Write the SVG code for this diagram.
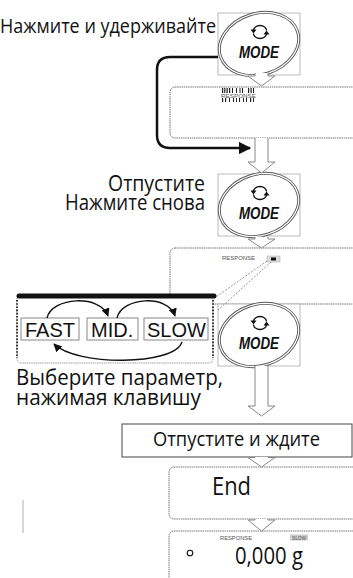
<svg xmlns="http://www.w3.org/2000/svg" width="353" height="578" viewBox="0 0 353 578">
<style>
.ru{font-family:"Open Sans","Noto Sans","DejaVu Sans",sans-serif;fill:#111}
.ar{font-family:"Liberation Sans",Arial,sans-serif;fill:#111}
.mode{font-family:"Liberation Sans",Arial,sans-serif;font-weight:bold;font-style:italic;font-size:16px;fill:#111}
.tiny{font-family:"Liberation Sans",Arial,sans-serif;font-size:5px;fill:#555}
.btnbox{fill:#fff;stroke:#bbb;stroke-width:1}
.disp{fill:#fff;stroke:#777;stroke-width:1;stroke-dasharray:1.5 0.7}
.hollow{fill:#fff;stroke:#888;stroke-width:1}
.opt{fill:#fff;stroke:#888;stroke-width:1}
.cur{fill:none;stroke:#111;stroke-width:1.4}
</style>
<defs>
<marker id="ah" viewBox="0 0 10 10" refX="9" refY="5" markerWidth="5" markerHeight="5" orient="auto" markerUnits="strokeWidth">
<path d="M0,0 L10,5 L0,10 Z" fill="#111"/>
</marker>
<marker id="ahs" viewBox="0 0 10 10" refX="9" refY="5" markerWidth="6" markerHeight="6" orient="auto" markerUnits="strokeWidth">
<path d="M0,0 L10,5 L0,10 Z" fill="#111"/>
</marker>
<g id="icon">
<path d="M6.5,-1.5 A6.5,5 0 0 0 -6.5,-1.5" fill="none" stroke="#111" stroke-width="1.3"/>
<polygon points="-9.5,-2.5 -3.5,-2.5 -6.5,1.5" fill="#111"/>
<path d="M-6.5,1.5 A6.5,5 0 0 0 6.5,1.5" fill="none" stroke="#111" stroke-width="1.3"/>
<polygon points="3.5,2.5 9.5,2.5 6.5,-1.5" fill="#111"/>
</g>
<g id="btn">
<rect class="btnbox" x="-41" y="-31" width="82" height="62"/>
<ellipse cx="0" cy="0" rx="40.5" ry="30.5" transform="rotate(-18)" fill="#fff" stroke="#555" stroke-width="3"/>
<ellipse cx="0" cy="0" rx="40.5" ry="30.5" transform="rotate(-18)" fill="none" stroke="#fff" stroke-width="1.2"/>
<use href="#icon" x="1" y="-12"/>
<text class="mode" x="0" y="14" text-anchor="middle" textLength="40" lengthAdjust="spacingAndGlyphs">MODE</text>
</g>
</defs>

<g id="label-hold">
<text class="ru" x="0" y="33" font-size="20.5" textLength="216" lengthAdjust="spacingAndGlyphs">Нажмите и удерживайте</text>
</g>

<g id="display-blink">
<rect class="disp" x="170" y="87" width="200" height="51" rx="5"/>
<g fill="#222">
<rect x="222" y="88" width="1.2" height="5"/><rect x="224.2" y="88" width="1.2" height="5"/><rect x="226.5" y="88" width="1.2" height="5"/><rect x="229" y="88" width="1.2" height="5"/><rect x="232" y="88" width="1" height="5"/><rect x="236" y="88" width="1" height="5"/><rect x="239.5" y="88" width="1" height="5"/><rect x="242" y="88" width="1" height="5"/><rect x="248" y="88" width="1.2" height="5"/><rect x="250.5" y="88" width="1.2" height="5"/><rect x="253" y="88" width="1" height="5"/>
<rect x="222" y="98" width="1.2" height="4"/><rect x="225" y="98" width="1.2" height="4"/><rect x="229" y="98" width="1" height="4"/><rect x="233" y="98" width="1" height="4"/><rect x="236" y="98" width="1" height="4"/><rect x="239" y="98" width="1" height="4"/><rect x="243" y="98" width="1" height="4"/><rect x="246" y="98" width="1" height="4"/><rect x="250" y="98" width="1.2" height="4"/><rect x="253" y="98" width="1" height="4"/>
</g>
<text class="tiny" x="221" y="97.5" textLength="35" lengthAdjust="spacingAndGlyphs">RESPONSE</text>
</g>

<g id="display-response">
<rect class="disp" x="170" y="248" width="200" height="56" rx="5"/>
<text class="tiny" x="222" y="260" textLength="33" lengthAdjust="spacingAndGlyphs">RESPONSE</text>
<rect x="267" y="256" width="13" height="6" fill="#ddd" stroke="#aaa" stroke-width="0.5"/>
<rect x="271" y="257.5" width="5" height="3" fill="#111"/>
</g>

<g id="label-release">
<text class="ru" x="205" y="191" font-size="21.5" text-anchor="end" textLength="97" lengthAdjust="spacingAndGlyphs">Отпустите</text>
<text class="ru" x="205" y="210" font-size="21.5" text-anchor="end" textLength="140" lengthAdjust="spacingAndGlyphs">Нажмите снова</text>
</g>

<g id="options-panel">
<path d="M17,298 V358 Q17,363 22,363 H208 Q213,363 213,358 V298" fill="#fff" stroke="#888" stroke-width="0.8" stroke-dasharray="1.5 0.7"/>
<line x1="17" y1="300" x2="17" y2="358" stroke="#111" stroke-width="1.6" stroke-dasharray="1.6 1.6"/>
<line x1="213" y1="300" x2="213" y2="358" stroke="#111" stroke-width="1.6" stroke-dasharray="1.6 1.6"/>
<line x1="19" y1="296" x2="214" y2="296" stroke="#111" stroke-width="5" stroke-linecap="round"/>
<rect class="opt" x="21" y="318" width="58" height="22"/>
<rect class="opt" x="87" y="318" width="51" height="22"/>
<rect class="opt" x="144" y="318" width="64" height="22"/>
<text class="ar" x="25" y="337" font-size="20">FAST</text>
<text class="ar" x="91" y="337" font-size="20">MID.</text>
<text class="ar" x="147" y="337" font-size="20">SLOW</text>
</g>

<g id="btn-hold"><use href="#btn" x="259" y="44"/></g>
<g id="btn-press"><use href="#btn" x="259" y="205"/></g>
<g id="btn-select"><use href="#btn" x="259" y="335"/></g>

<g id="label-select">
<text class="ru" x="16" y="385" font-size="21.5" textLength="207" lengthAdjust="spacingAndGlyphs">Выберите параметр,</text>
<text class="ru" x="16" y="405" font-size="21.5" textLength="185" lengthAdjust="spacingAndGlyphs">нажимая клавишу</text>
</g>

<g id="box-wait">
<rect x="122" y="424" width="230" height="33" fill="#fff" stroke="#444" stroke-width="1"/>
<text class="ru" x="153" y="446" font-size="20.5" textLength="167" lengthAdjust="spacingAndGlyphs">Отпустите и ждите</text>
</g>

<g id="display-end">
<rect class="disp" x="169" y="467" width="200" height="52" rx="5"/>
<text class="ru" x="212" y="495" font-size="25" textLength="39" lengthAdjust="spacingAndGlyphs">End</text>
</g>

<g id="display-final">
<rect class="disp" x="169" y="531" width="200" height="60" rx="5"/>
<text class="tiny" x="220" y="539.5" textLength="32" lengthAdjust="spacingAndGlyphs">RESPONSE</text>
<rect x="290" y="534.5" width="18" height="6" fill="#ccc"/>
<text class="tiny" x="292" y="539.5" textLength="14" lengthAdjust="spacingAndGlyphs">SLOW</text>
<circle cx="190" cy="553" r="2.8" fill="none" stroke="#111" stroke-width="1.1"/>
<text class="ru" x="235" y="564" font-size="24" textLength="68" lengthAdjust="spacingAndGlyphs">0,000 g</text>
</g>

<g id="mark">
<line x1="23" y1="500" x2="23" y2="533" stroke="#999" stroke-width="0.8"/>
</g>

<g id="connectors">
<path class="hollow" d="M255,73 V76 H248 L261.5,86 L275,76 H268 V73"/>
<path class="hollow" d="M255,138 V162 H248 L261.5,173 L275,162 H268 V138"/>
<path class="hollow" d="M255,237 V239 H248 L261.5,248 L275,239 H268 V237"/>
<path class="hollow" d="M255,366 V406 H248 L261.5,416 L275,406 H268 V366"/>
<path class="hollow" d="M255,457 V457.5 H248 L261.5,467 L275,457.5 H268 V457"/>
<path class="hollow" d="M255,519 V520 H248 L261.5,531 L275,520 H268 V519"/>
<path d="M218,57 H170 Q157,57 157,70 V135 Q157,148 170,148 H250" fill="none" stroke="#111" stroke-width="2.5" marker-end="url(#ah)"/>
<line x1="267" y1="261" x2="216" y2="297" stroke="#666" stroke-width="0.7" stroke-dasharray="2 1.5"/>
<line x1="271" y1="262" x2="218" y2="310" stroke="#666" stroke-width="0.7" stroke-dasharray="2 1.5"/>
<path class="cur" d="M47,318 C52,297 100,294 108,316" marker-end="url(#ahs)"/>
<path class="cur" d="M117,318 C122,297 168,294 175,316" marker-end="url(#ahs)"/>
<path class="cur" d="M182,342 C174,366 76,366 54,344" marker-end="url(#ahs)"/>
</g>
</svg>
